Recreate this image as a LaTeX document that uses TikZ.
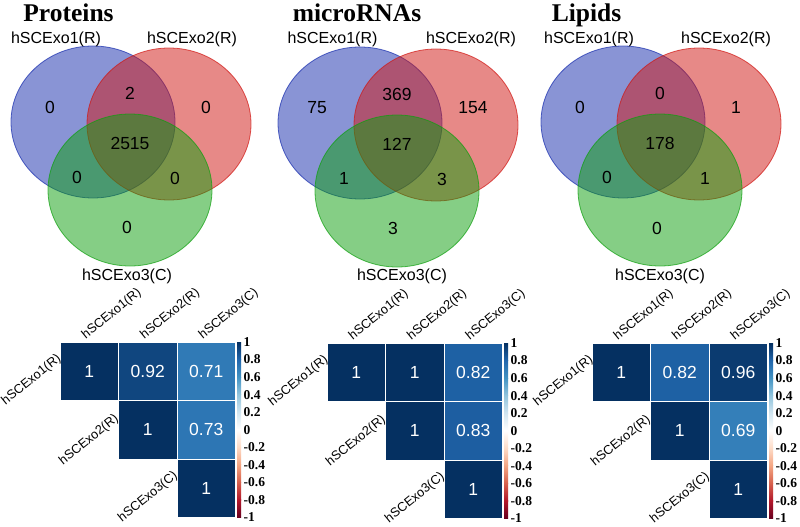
\documentclass[tikz,border=0pt]{standalone}
\usepackage{fontspec}
\setmainfont{Liberation Sans}
\newfontfamily\tnr{Liberation Serif}
\definecolor{vblue}{HTML}{152BAD}
\definecolor{vred}{HTML}{D11511}
\definecolor{vgreen}{HTML}{0D9F0D}
\definecolor{c0}{HTML}{67001F}
\definecolor{c1}{HTML}{B2182B}
\definecolor{c2}{HTML}{D6604D}
\definecolor{c3}{HTML}{F4A582}
\definecolor{c4}{HTML}{FDDBC7}
\definecolor{c5}{HTML}{FFFFFF}
\definecolor{c6}{HTML}{D1E5F0}
\definecolor{c7}{HTML}{92C5DE}
\definecolor{c8}{HTML}{4393C3}
\definecolor{c9}{HTML}{2166AC}
\definecolor{c10}{HTML}{053061}
\colorlet{v92}{c10!60!c9}
\colorlet{v71}{c9!55!c8}
\colorlet{v73}{c9!65!c8}
\colorlet{v82}{c10!10!c9}
\colorlet{v83}{c10!15!c9}
\colorlet{v96}{c10!80!c9}
\colorlet{v69}{c9!45!c8}
\tikzset{
  vset/.style={fill opacity=0.5, draw opacity=0.7, line width=0.8pt},
  vlab/.style={font=\fontsize{16}{18}\selectfont, anchor=base, inner sep=0},
  vnum/.style={font=\fontsize{17.5}{19}\selectfont, inner sep=0},
  ttl/.style={font=\tnr\bfseries\fontsize{25.5}{28}\selectfont, anchor=base, inner sep=0},
  cell/.style={draw=white, line width=0.4pt, minimum size=58.5pt, inner sep=0, text=white, font=\fontsize{17.5}{19}\selectfont},
  rlab/.style={font=\fontsize{12.8}{15}\selectfont, rotate=39, inner sep=0.5pt},
  cbl/.style={font=\tnr\bfseries\fontsize{13.5}{15}\selectfont, anchor=west, inner sep=0},
}
\newcommand\vennset[9]{%
  \begin{scope}[shift={(#1,#2)}]
    \draw[vset, fill=vblue, draw=vblue] (0,0) ellipse [x radius=82pt, y radius=76pt];
    \draw[vset, fill=vred, draw=vred] (76,2) ellipse [x radius=82pt, y radius=76pt];
    \draw[vset, fill=vgreen, draw=vgreen] (37,68) ellipse [x radius=82pt, y radius=76pt];
    \node[vnum] (#3-a) at (-43,-15) {#4};
    \node[vnum] (#3-ab) at (37,-29) {#5};
    \node[vnum] (#3-b) at (113,-15) {#6};
    \node[vnum] (#3-abc) at (37,21) {#7};
    \node[vnum] (#3-ac) at (-16,55) {#8};
    \node[vnum] (#3-bc) at (82,56) {#9};
  \end{scope}}
\newcommand\hmap[9]{%
  \begin{scope}[shift={(#1,#2)}]
    \node[cell, fill=c10] (#3-11) at (29.25,29.25) {1};
    \node[cell, fill=#4] (#3-12) at (87.75,29.25) {#5};
    \node[cell, fill=#6] (#3-13) at (146.25,29.25) {#7};
    \node[cell, fill=c10] (#3-22) at (87.75,87.75) {1};
    \node[cell, fill=#8] (#3-23) at (146.25,87.75) {#9};
    \node[cell, fill=c10] (#3-33) at (146.25,146.25) {1};
    \foreach \k in {0,...,9}{
      \pgfmathtruncatemacro\ct{10-\k}
      \pgfmathtruncatemacro\cb{9-\k}
      \shade[top color=c\ct, bottom color=c\cb] (177,17.55*\k) rectangle (181,17.55*\k+17.6);
    }
    \foreach \v [count=\k from 0] in {1,0.8,0.6,0.4,0.2,0,-0.2,-0.4,-0.6,-0.8,-1}{
      \node[cbl] (#3-cb\k) at (183.5,17.55*\k) {\v};
    }
    \node[rlab, anchor=west] (#3-t1) at (23.25,-5) {hSCExo1(R)};
    \node[rlab, anchor=west] (#3-t2) at (81.75,-5) {hSCExo2(R)};
    \node[rlab, anchor=west] (#3-t3) at (140.25,-5) {hSCExo3(C)};
    \node[rlab, anchor=east] (#3-l1) at (0,15) {hSCExo1(R)};
    \node[rlab, anchor=east] (#3-l2) at (57.5,75) {hSCExo2(R)};
    \node[rlab, anchor=east] (#3-l3) at (116.5,132) {hSCExo3(C)};
  \end{scope}}
\begin{document}
\begin{tikzpicture}[x=1pt, y=-1pt]
\useasboundingbox[fill=white] (0,0) rectangle (800,527);
% Venn diagrams
\vennset{93}{122}{p}{0}{2}{0}{2515}{0}{0}
\node[vnum] (p-c) at (127,227) {0};
\vennset{360}{123}{m}{75}{369}{154}{127}{1}{3}
\node[vnum] (m-c) at (393,228) {3};
\vennset{623}{122}{l}{0}{0}{1}{178}{0}{1}
\node[vnum] (l-c) at (657,228) {0};
% titles
\node[ttl] (t1) at (68.5,22) {Proteins};
\node[ttl] (t2) at (357,22) {microRNAs};
\node[ttl] (t3) at (586.5,22) {Lipids};
% set labels
\node[vlab] (p-la) at (56,44) {hSCExo1(R)};
\node[vlab] (p-lb) at (192,44) {hSCExo2(R)};
\node[vlab] (p-lc) at (127,280) {hSCExo3(C)};
\node[vlab] (m-la) at (332.5,44) {hSCExo1(R)};
\node[vlab] (m-lb) at (471,44) {hSCExo2(R)};
\node[vlab] (m-lc) at (402,280) {hSCExo3(C)};
\node[vlab] (l-la) at (589,44) {hSCExo1(R)};
\node[vlab] (l-lb) at (726,44) {hSCExo2(R)};
\node[vlab] (l-lc) at (660,280) {hSCExo3(C)};
% heatmaps
\hmap{60}{342}{h1}{v92}{0.92}{v71}{0.71}{v73}{0.73}
\hmap{327}{343}{h2}{c10}{1}{v82}{0.82}{v83}{0.83}
\hmap{592}{343}{h3}{v82}{0.82}{v96}{0.96}{v69}{0.69}
\end{tikzpicture}
\end{document}
